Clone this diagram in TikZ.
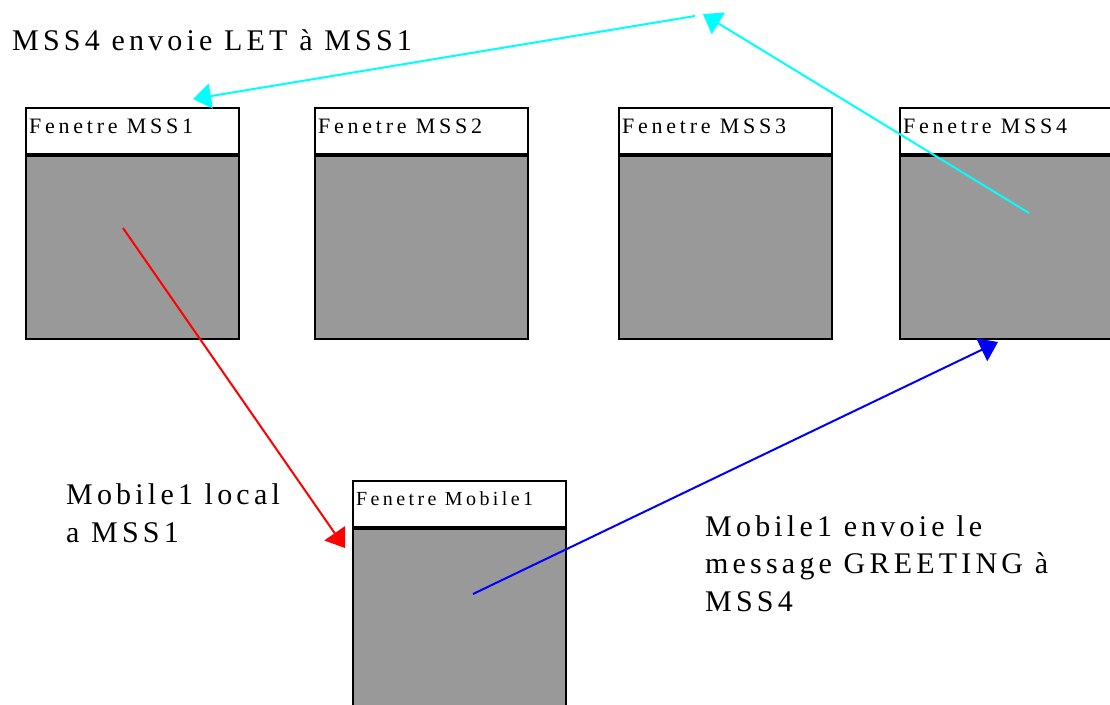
\documentclass[tikz,border=0pt]{standalone}
\usepackage{fontspec}
\setmainfont{Liberation Serif}
\newfontfamily\wintitle[LetterSpace=17]{Liberation Serif}
\newfontfamily\notefont[LetterSpace=14]{Liberation Serif}
\usetikzlibrary{arrows.meta}
\definecolor{winbody}{HTML}{999999}
\definecolor{letcol}{HTML}{00FFFF}
\definecolor{loccol}{HTML}{FF0000}
\definecolor{grtcol}{HTML}{0000FF}
\begin{document}
\begin{tikzpicture}[x=1pt,y=-1pt,
  titlebox/.style={draw=black,line width=1.8pt,fill=white,minimum width=213pt,minimum height=46pt,inner sep=0pt,anchor=north west},
  bodybox/.style={draw=black,line width=1.8pt,fill=winbody,minimum width=213pt,inner sep=0pt,anchor=north west},
  titletext/.style={anchor=base west,inner sep=0pt,font=\wintitle\fontsize{22}{26}\selectfont},
  note/.style={anchor=base west,inner sep=0pt,align=left,font=\notefont\fontsize{30}{37.5}\selectfont},
  msg/.style={line width=2pt,-{Triangle[length=18pt,width=25pt]}}]
\useasboundingbox (0,0) rectangle (1110,704);
\clip (0,0) rectangle (1110,704);
\fill[white] (0,0) rectangle (1110,704);

% station windows
\foreach \i/\x in {1/25,2/314,3/618,4/899}{
  \node[titlebox] (t\i) at (\x,107) {};
  \node[bodybox,minimum height=183pt] (b\i) at (t\i.south west) {};
  \node[titletext] (l\i) at ([xshift=4pt,yshift=-26pt]t\i.north west) {Fenetre MSS\i};
}

% mobile window
\node[titlebox] (tm) at (352,480) {};
\node[bodybox,minimum height=200pt] (bm) at (tm.south west) {};
\node[titletext,font=\wintitle\fontsize{20}{24}\selectfont] (lm) at ([xshift=4pt,yshift=-25pt]tm.north west) {Fenetre Mobile1};

% message end points
\coordinate (s4) at (1029,213);
\coordinate (relay) at (703,14);
\coordinate (relayout) at (695,16);
\coordinate (d1) at (193,99);
\coordinate (s1) at (123,228);
\coordinate (dm) at (345,548);
\coordinate (sm) at (473,594);
\coordinate (d4) at (998,342);

\draw[msg,letcol] (s4) -- (relay);
\draw[msg,letcol] (relayout) -- (d1);
\draw[msg,loccol] (s1) -- (dm);
\draw[msg,grtcol] (sm) -- (d4);

% captions (anchored at the baseline of their last line)
\node[note] (n1) at (12,50) {MSS4 envoie LET à MSS1};
\node[note] (n2) at (66,542) {Mobile1 local\\a MSS1};
\node[note] (n3) at (705,611) {Mobile1 envoie le\\message GREETING à\\MSS4};
\end{tikzpicture}
\end{document}
